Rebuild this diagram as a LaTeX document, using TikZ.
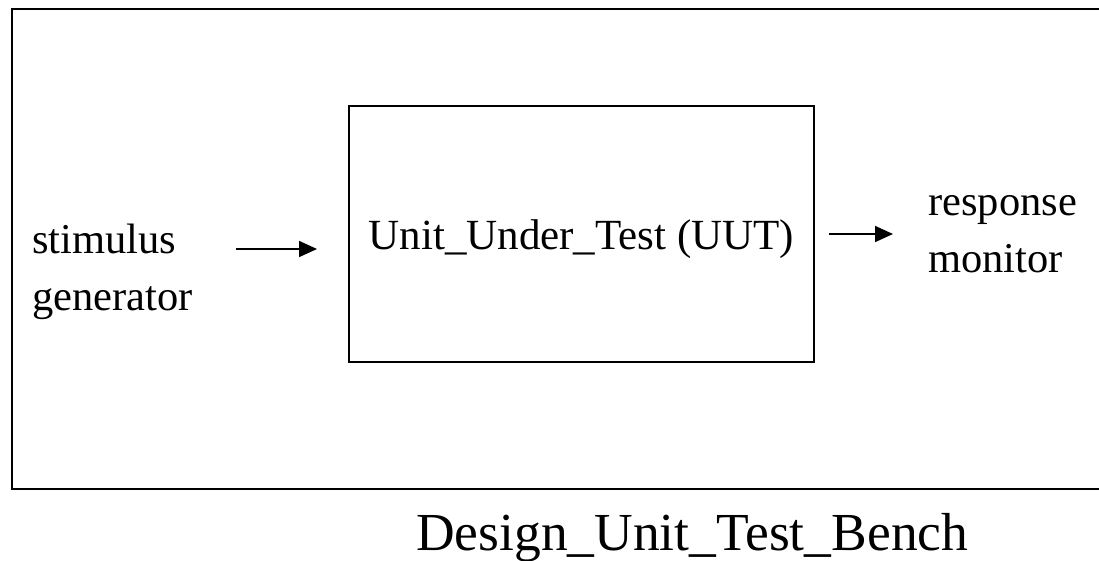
\documentclass[tikz,border=0pt]{standalone}
\usepackage{fontspec}
\setmainfont{Liberation Serif}
\usetikzlibrary{arrows.meta}
\begin{document}
\begin{tikzpicture}[x=1pt,y=-1pt,
  labeltext/.style={font=\fontsize{42.5}{57}\selectfont, inner sep=0pt, align=left},
  blockbox/.style={draw, line width=1.8pt, inner sep=0pt, anchor=north west,
    minimum width=465pt, minimum height=256pt, font=\fontsize{43}{50}\selectfont},
  flow/.style={line width=1.6pt, -{Triangle[length=18pt,width=16pt]}},
]
\useasboundingbox (0,0) rectangle (1099,560);

% test bench frame, open past the right edge
\draw[line width=2.4pt] (1130,9) -- (12,9) -- (12,489) -- (1130,489);

% unit under test (label set a little below the middle)
\node[blockbox] (uut) at (348,105) {\raisebox{-5pt}[\height][\depth]{Unit\_Under\_Test (UUT)}};

% side labels (anchored on the baseline of their last line)
\node[labeltext, anchor=base west] (stim) at (32,310) {stimulus\\generator};
\node[labeltext, anchor=base west] (resp) at (928,272) {response\\monitor};

% arrow end points
\coordinate (inA) at (236,249);
\coordinate (inB) at (317,249);
\coordinate (outA) at (829,234);
\coordinate (outB) at (893,234);
\draw[flow] (inA) -- (inB);
\draw[flow] (outA) -- (outB);

% caption
\node[inner sep=0pt, anchor=base west, font=\fontsize{53.5}{60}\selectfont] (title) at (416,550) {Design\_Unit\_Test\_Bench};
\end{tikzpicture}
\end{document}
